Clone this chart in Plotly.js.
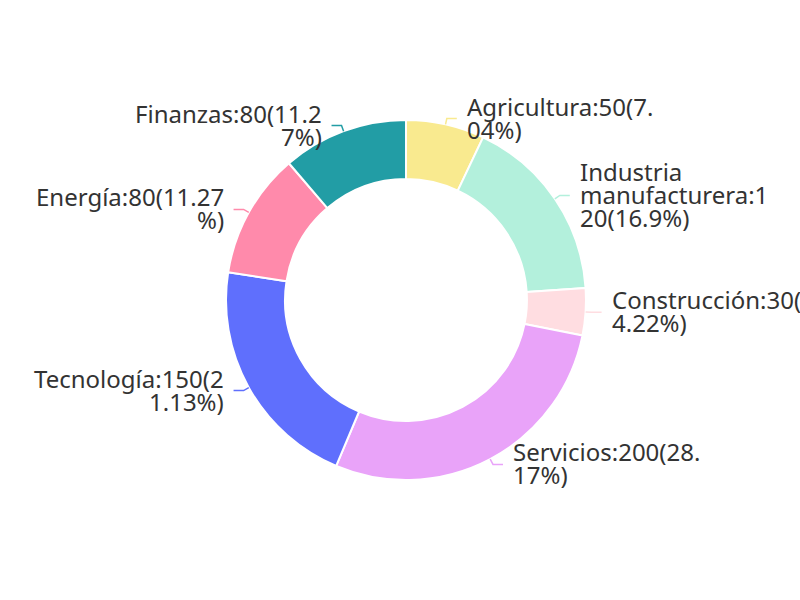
<!DOCTYPE html>
<html>
<head>
<meta charset="utf-8">
<script src="https://cdn.plot.ly/plotly-3.0.1.min.js"></script>
<style>html,body{margin:0;padding:0;background:#fff;}#chart{width:800px;height:600px;}</style>
</head>
<body>
<div id="chart"></div>
<script>
const categories = ["Agricultura", "Industria manufacturera", "Construcción", "Servicios", "Tecnología", "Energía", "Finanzas"];
const values = [50, 120, 30, 200, 150, 80, 80];
const colors = ["#f9ea8f", "#b3f0dc", "#ffdde1", "#e9a3f9", "#5f6ffd", "#ff8aab", "#229da5"];

const W = 800, H = 600;
const CX = 406, CY = 300, R = 180;
const HOLE = 0.672;
const FONT = "Noto Sans";
const FSIZE = 24;
const LINE_H = 23;
const WRAP_W = 194;

const total = values.reduce((a, b) => a + b, 0);
// percentages with 2 decimals, summing to 100 (largest remainder method)
function percents(vals, prec) {
  const digits = Math.pow(10, prec);
  const target = 100 * digits;
  const raw = vals.map(v => v / total * target);
  const floors = raw.map(Math.floor);
  let rest = target - floors.reduce((a, b) => a + b, 0);
  const rem = raw.map((r, i) => ({ i, r: r - floors[i] })).sort((a, b) => b.r - a.r);
  for (let k = 0; k < rest; k++) floors[rem[k].i] += 1;
  return floors.map(f => parseFloat((f / digits).toFixed(prec)));
}
const pct = percents(values, 2);
const texts = categories.map((c, i) => c + ":" + values[i] + "(" + pct[i] + "%)");

const ctx = document.createElement("canvas").getContext("2d");
ctx.font = FSIZE + "px '" + FONT + "'";
function wrap(str) {
  const words = str.split(" ");
  const lines = [];
  let cur = "";
  words.forEach((w, wi) => {
    const token = (wi < words.length - 1) ? w + " " : w;
    if (ctx.measureText((cur + token).trimEnd()).width <= WRAP_W) { cur += token; return; }
    if (cur) { lines.push(cur.trimEnd()); cur = ""; }
    for (const ch of token) {
      if (ctx.measureText(cur + ch).width > WRAP_W && cur) { lines.push(cur); cur = ""; }
      cur += ch;
    }
  });
  if (cur.trim()) lines.push(cur.trimEnd());
  return lines;
}

const px = x => x / W;
const py = y => 1 - y / H;

const annotations = [];
const shapes = [];
let cum = 0;
values.forEach((v, i) => {
  const mid = (cum + v / 2) / total * 2 * Math.PI;
  cum += v;
  const s = Math.sin(mid), c = Math.cos(mid);
  const right = s >= 0;
  const x1 = CX + R * s, y1 = CY - R * c;
  const r2 = R + 6;
  const x2 = CX + r2 * s, y2 = CY - r2 * c;
  const x3 = x2 + (right ? 10 : -10);
  shapes.push({
    type: "path", xref: "paper", yref: "paper",
    path: `M ${px(x1)} ${py(y1)} L ${px(x2)} ${py(y2)} L ${px(x3)} ${py(y2)}`,
    line: { color: colors[i], width: 1.5 }
  });
  const lines = wrap(texts[i]);
  const tx = x3 + (right ? 8 : -8);
  lines.forEach((ln, k) => {
    const ly = y2 + (k - (lines.length - 1) / 2) * LINE_H - 1;
    annotations.push({
      xref: "paper", yref: "paper", x: px(tx), y: py(ly),
      xanchor: right ? "left" : "right", yanchor: "middle",
      align: right ? "left" : "right",
      text: ln, showarrow: false,
      font: { family: FONT, size: FSIZE, color: "#333333" }
    });
  });
});

const trace = {
  type: "pie",
  labels: categories,
  values: values,
  hole: HOLE,
  sort: false,
  direction: "clockwise",
  rotation: 0,
  textinfo: "none",
  marker: { colors: colors, line: { color: "#ffffff", width: 2 } },
  domain: { x: [(CX - R) / W, (CX + R) / W], y: [(H - CY - R) / H, (H - CY + R) / H] },
  showlegend: false
};

Plotly.newPlot("chart", [trace], {
  width: W, height: H,
  margin: { l: 0, r: 0, t: 0, b: 0 },
  paper_bgcolor: "#ffffff",
  showlegend: false,
  annotations: annotations,
  shapes: shapes
}, { displayModeBar: false, staticPlot: true });
</script>
</body>
</html>
